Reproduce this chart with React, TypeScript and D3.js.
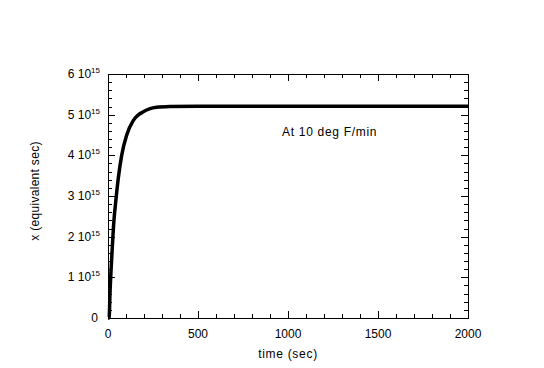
import React from 'react';
import * as d3 from 'd3';

// values (time in sec, x in units of 1e15 equivalent sec)
const timeSec = [0, 4, 7, 11, 17, 24, 33, 43, 57, 76, 104, 141, 170, 196, 230, 270, 344, 500, 1000, 1500, 2000];
const xEquiv = [0, 0.0, 0.05, 0.6, 1.18, 1.75, 2.4, 2.86, 3.43, 4.0, 4.5, 4.86, 5.0, 5.07, 5.14, 5.18, 5.2, 5.21, 5.21, 5.21, 5.21];
const yTickVals = [0, 1, 2, 3, 4, 5, 6];
const xTickVals = [0, 500, 1000, 1500, 2000];
const annotation = 'At 10 deg F/min';

const width = 544;
const height = 368;
const left = 108, right = 468, top = 74, bottom = 318;
const font = 'Liberation Sans, Arial, sans-serif';

const App = () => {
    const xScale = d3.scaleLinear().domain([0, 2000]).range([left, right]);
    const yScale = d3.scaleLinear().domain([0, 6]).range([bottom, top]);

    const pts = timeSec.map((t, i) => ({t: t, v: xEquiv[i]}));
    const line = d3.line<{t: number, v: number}>()
        .x(d => xScale(d.t))
        .y(d => yScale(d.v))
        .curve(d3.curveMonotoneX);

    const xMinor = d3.range(0, 2001, 100);
    const yMinor = d3.range(0, 6.001, 0.2);
    const isMajorX = (v: number) => v % 500 === 0;
    const isMajorY = (v: number) => Math.abs(v - Math.round(v)) < 1e-6;

    return (
        <svg width={width} height={height} style={{position: 'absolute', left: 0, top: 0, background: 'white'}}>
            <g stroke="black" strokeWidth={1} shapeRendering="crispEdges">
                {xMinor.map(v => {
                    const len = isMajorX(v) ? 7 : 4;
                    const x = Math.round(xScale(v)) + 0.5;
                    return (
                        <g key={'x' + v}>
                            <line x1={x} x2={x} y1={bottom} y2={bottom - len} />
                            <line x1={x} x2={x} y1={top} y2={top + len} />
                        </g>
                    );
                })}
                {yMinor.map(v => {
                    const len = isMajorY(v) ? 7 : 4;
                    const y = Math.round(yScale(v)) + 0.5;
                    return (
                        <g key={'y' + v.toFixed(1)}>
                            <line x1={left} x2={left + len} y1={y} y2={y} />
                            <line x1={right} x2={right - len} y1={y} y2={y} />
                        </g>
                    );
                })}
                <rect x={left + 0.5} y={top + 0.5} width={right - left} height={bottom - top} fill="none" />
            </g>

            <path d={line(pts) || ''} fill="none" stroke="black" strokeWidth={3.5} strokeLinejoin="round" />

            <g fontFamily={font} fontSize={12} fill="black">
                {xTickVals.map(v => (
                    <text key={'xl' + v} x={xScale(v)} y={338} textAnchor="middle">{v}</text>
                ))}
                {yTickVals.map(v => (
                    v === 0 ? (
                        <text key={'yl' + v} x={98} y={yScale(v) + 4} textAnchor="end">0</text>
                    ) : (
                        <text key={'yl' + v} x={100} y={yScale(v) + 4} textAnchor="end">
                            {v + ' 10'}
                            <tspan fontSize={8} dy={-5}>15</tspan>
                        </text>
                    )
                ))}
                <text x={(left + right) / 2} y={358} textAnchor="middle" letterSpacing={0.7}>time (sec)</text>
                <text transform={`translate(39,191) rotate(-90)`} textAnchor="middle" letterSpacing={0.3}>x (equivalent sec)</text>
                <text x={282} y={136} letterSpacing={0.7}>{annotation}</text>
            </g>
        </svg>
    );
};

export default App;
